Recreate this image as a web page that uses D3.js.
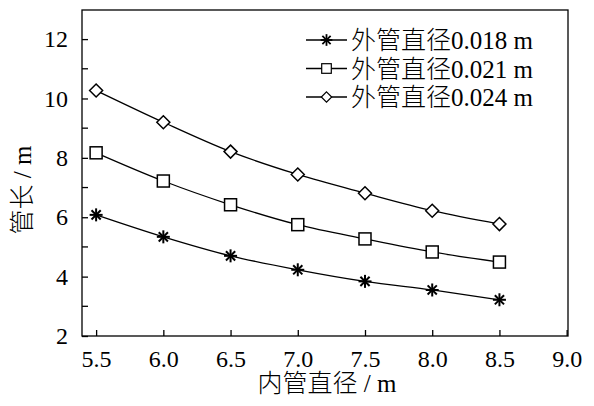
<!DOCTYPE html>
<html>
<head>
<meta charset="utf-8">
<script src="https://cdn.jsdelivr.net/npm/d3@7"></script>
<style>
  body { margin: 0; background: #fff; }
  svg { display: block; }
</style>
</head>
<body>
<svg id="svg"></svg>
<script>
// 数据
const innerDia = [5.5, 6.0, 6.5, 7.0, 7.5, 8.0, 8.5]
const len018 = [6.08, 5.34, 4.70, 4.23, 3.84, 3.55, 3.22]
const len021 = [8.17, 7.22, 6.42, 5.75, 5.27, 4.83, 4.49]
const len024 = [10.27, 9.20, 8.21, 7.44, 6.81, 6.22, 5.77]
const seriesNames = ['外管直径0.018 m', '外管直径0.021 m', '外管直径0.024 m']
const xTicks = [5.5, 6.0, 6.5, 7.0, 7.5, 8.0, 8.5, 9.0]
const yTicks = [2, 4, 6, 8, 10, 12]
const yMinor = [3, 5, 7, 9, 11]

const W = 594, H = 406
const m = { left: 82, right: 26, top: 10, bottom: 70 }
const font = '"Liberation Serif", "Times New Roman", "Noto Sans CJK SC", serif'

const svg = d3.select('#svg').attr('width', W).attr('height', H)

const x = d3.scaleLinear().domain([5.395, 9.01]).range([m.left, W - m.right])
const y = d3.scaleLinear().domain([2, 12.98]).range([H - m.bottom, m.top])

// 边框
svg.append('rect')
    .attr('x', m.left).attr('y', m.top)
    .attr('width', W - m.left - m.right).attr('height', H - m.top - m.bottom)
    .attr('fill', 'none').attr('stroke', '#000').attr('stroke-width', 1.3)

// x 轴
const xAxis = svg.append('g')
    .attr('transform', `translate(0,${H - m.bottom})`)
    .call(d3.axisBottom(x).tickValues(xTicks).tickFormat(d3.format('.1f')).tickSizeInner(-6).tickSizeOuter(0).tickPadding(14))
xAxis.select('.domain').remove()
xAxis.selectAll('line').attr('stroke-width', 1.3)
xAxis.selectAll('text').attr('font-family', font).attr('font-size', 24).attr('fill', '#000')

// y 轴
const yAxis = svg.append('g')
    .attr('transform', `translate(${m.left},0)`)
    .call(d3.axisLeft(y).tickValues(yTicks).tickSizeInner(-6).tickSizeOuter(0).tickPadding(14))
yAxis.select('.domain').remove()
yAxis.selectAll('line').attr('stroke-width', 1.3)
yAxis.selectAll('text').attr('font-family', font).attr('font-size', 24).attr('fill', '#000')

svg.append('g').selectAll('line').data(yMinor).join('line')
    .attr('x1', m.left).attr('x2', m.left + 6)
    .attr('y1', d => y(d)).attr('y2', d => y(d))
    .attr('stroke', '#000').attr('stroke-width', 1.3)

// 轴标题
svg.append('text')
    .text('内管直径 / m')
    .attr('font-family', font).attr('font-size', 25).attr('font-weight', 300)
    .attr('text-anchor', 'middle')
    .attr('x', (m.left + W - m.right) / 2 + 2).attr('y', 392)

svg.append('text')
    .text('管长 / m')
    .attr('font-family', font).attr('font-size', 25).attr('font-weight', 300)
    .attr('text-anchor', 'middle')
    .attr('transform', 'translate(31,190) rotate(-90)')

// 标记
const star = (g) => {
    const r = 6.5
    for (let i = 0; i < 4; i++) {
        const a = i * Math.PI / 4
        g.append('line')
            .attr('x1', -r * Math.cos(a)).attr('y1', -r * Math.sin(a))
            .attr('x2', r * Math.cos(a)).attr('y2', r * Math.sin(a))
            .attr('stroke', '#000').attr('stroke-width', 2)
    }
}
const square = (g) => {
    g.append('rect').attr('x', -6).attr('y', -6).attr('width', 12).attr('height', 12)
        .attr('fill', '#fff').attr('stroke', '#000').attr('stroke-width', 1.5)
}
const diamond = (g) => {
    g.append('path').attr('d', 'M0,-6.5L6.5,0L0,6.5L-6.5,0Z')
        .attr('fill', '#fff').attr('stroke', '#000').attr('stroke-width', 1.5)
}

const series = [
    { name: seriesNames[0], values: len018, marker: star },
    { name: seriesNames[1], values: len021, marker: square },
    { name: seriesNames[2], values: len024, marker: diamond }
]

const line = d3.line()
    .x((d, i) => x(innerDia[i]))
    .y(d => y(d))
    .curve(d3.curveMonotoneX)

series.forEach(s => {
    svg.append('path')
        .attr('d', line(s.values))
        .attr('fill', 'none').attr('stroke', '#000').attr('stroke-width', 1.3)

    s.values.forEach((v, i) => {
        const g = svg.append('g').attr('transform', `translate(${x(innerDia[i])},${y(v)})`)
        s.marker(g)
    })
})

// 图例
series.forEach((s, i) => {
    const ly = 40 + i * 28.5
    svg.append('line')
        .attr('x1', 306).attr('x2', 347).attr('y1', ly).attr('y2', ly)
        .attr('stroke', '#000').attr('stroke-width', 1.3)
    const g = svg.append('g')
        .attr('transform', `translate(326.5,${ly}) scale(${i === 0 ? 0.9 : 0.8})`)
    s.marker(g)
    svg.append('text')
        .text(s.name)
        .attr('font-family', font).attr('font-size', 25).attr('font-weight', 300)
        .attr('x', 351).attr('y', ly + 9)
})
</script>
</body>
</html>
